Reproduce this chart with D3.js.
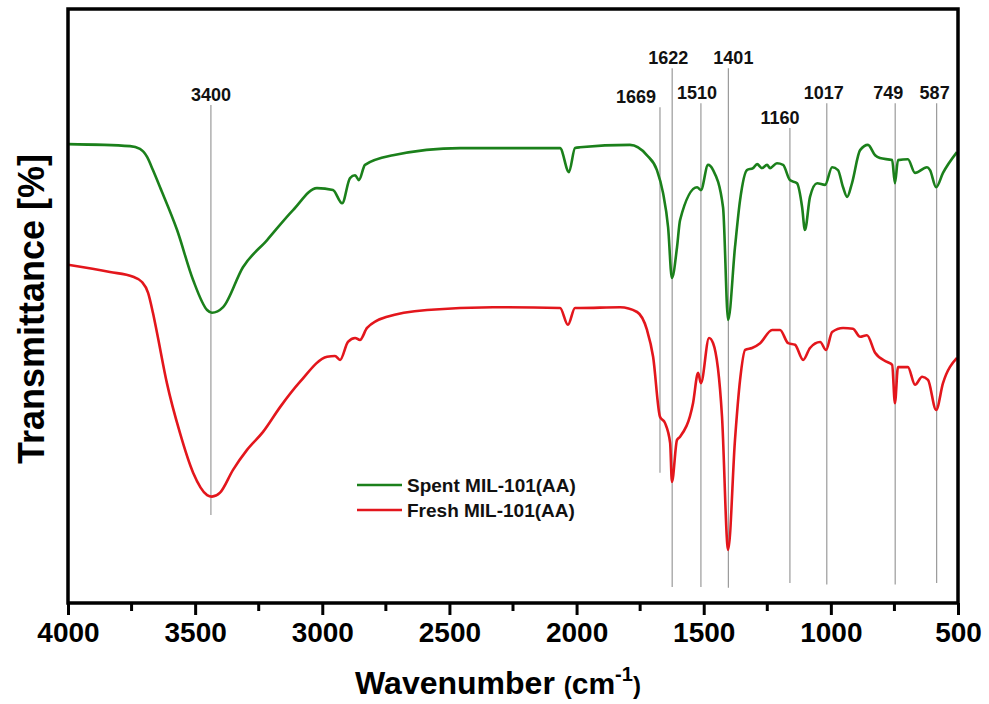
<!DOCTYPE html>
<html>
<head>
<meta charset="utf-8">
<script src="https://cdn.jsdelivr.net/npm/d3@7"></script>
<style>
  body { margin: 0; background: #fff; }
  text { font-family: "Liberation Sans", Arial, sans-serif; font-weight: bold; }
</style>
</head>
<body>
<div id="chart"></div>
<script>
// wavenumber (cm-1) and transmittance (arbitrary units)
var spentWn = [4000, 3756, 3717, 3689, 3666, 3638, 3571, 3508, 3453, 3434, 3390, 3312, 3217, 3115, 3021, 2958, 2922, 2891, 2871, 2856, 2832, 2722, 2458, 2065, 2030, 2006, 1987, 1790, 1723, 1684, 1660, 1640, 1625, 1605, 1593, 1526, 1511, 1483, 1463, 1424, 1404, 1377, 1357, 1330, 1306, 1290, 1271, 1251, 1239, 1212, 1188, 1161, 1133, 1113, 1102, 1082, 1054, 1023, 995, 972, 952, 936, 917, 885, 854, 826, 807, 759, 748, 736, 697, 669, 622, 610, 586, 559, 504];
var spentT = [57.0, 56.75, 56.4, 55.4, 53.75, 51.6, 46.25, 40.0, 36.25, 35.9, 36.6, 41.6, 45.0, 48.75, 51.5, 51.25, 49.6, 52.75, 53.1, 52.5, 54.4, 55.6, 56.5, 56.5, 53.5, 56.5, 56.6, 56.9, 55.6, 53.75, 50.9, 46.6, 40.25, 44.1, 47.5, 51.6, 51.25, 54.4, 53.75, 49.1, 35.0, 44.1, 50.0, 53.75, 54.0, 54.5, 54.0, 54.4, 54.0, 54.6, 54.4, 52.5, 52.1, 49.1, 46.25, 50.4, 52.1, 51.9, 54.1, 53.75, 51.6, 50.4, 52.1, 56.25, 56.9, 55.6, 55.25, 55.0, 52.1, 55.0, 55.1, 53.4, 54.1, 53.75, 51.6, 53.4, 56.0];

var freshWn = [4000, 3835, 3744, 3709, 3685, 3666, 3650, 3611, 3560, 3508, 3453, 3434, 3402, 3351, 3296, 3233, 3166, 3088, 2981, 2950, 2930, 2899, 2871, 2852, 2824, 2745, 2588, 2329, 2065, 2034, 2006, 1987, 1829, 1762, 1723, 1699, 1672, 1652, 1632, 1625, 1605, 1593, 1542, 1522, 1511, 1479, 1463, 1428, 1404, 1377, 1357, 1337, 1310, 1278, 1231, 1200, 1168, 1141, 1109, 1082, 1042, 1019, 995, 952, 913, 885, 858, 826, 779, 759, 748, 736, 697, 669, 641, 618, 586, 559, 504];
var freshT = [41.9, 41.0, 40.4, 39.75, 38.4, 35.9, 33.4, 27.1, 20.9, 15.9, 13.1, 12.9, 13.4, 16.25, 18.75, 21.0, 24.1, 27.25, 30.4, 30.5, 30.0, 32.25, 32.75, 32.5, 34.0, 35.4, 36.25, 36.6, 36.5, 34.4, 36.5, 36.5, 36.6, 36.0, 33.75, 30.4, 22.9, 22.1, 19.6, 14.75, 20.0, 20.4, 24.6, 28.4, 27.1, 32.75, 32.1, 22.9, 6.25, 20.0, 27.5, 31.25, 31.5, 32.1, 33.75, 33.75, 32.1, 31.9, 30.0, 31.5, 32.25, 31.25, 33.5, 34.0, 33.9, 32.9, 33.1, 30.9, 29.75, 29.4, 24.6, 29.1, 29.1, 26.9, 27.9, 27.5, 23.75, 27.1, 30.25];

// marked bands: line position, label, top and bottom of the guide line
var peakWn = [3438, 1672, 1624, 1511, 1403, 1161, 1016, 747, 584];
var peakLabels = ["3400", "1669", "1622", "1510", "1401", "1160", "1017", "749", "587"];
var peakTop = [61.9, 61.6, 66.5, 62.1, 66.5, 59.0, 62.1, 62.1, 62.1];
var peakBottom = [10.6, 15.9, 1.6, 1.6, 1.5, 2.1, 1.9, 1.9, 2.1];

var seriesNames = ["Spent MIL-101(AA)", "Fresh MIL-101(AA)"];
var xTicks = [4000, 3500, 3000, 2500, 2000, 1500, 1000, 500];

function draw(){
	var margin = {top: 9, right: 31, bottom: 101, left: 68};
	var width = 989 - margin.left - margin.right, height = 704 - margin.top - margin.bottom;
	var colors = ["#1b801b", "#e3161c"];

	var svg = d3.select("#chart")
		.append("svg")
		.attr("width", 989)
		.attr("height", 704);
	var g = svg.append("g")
		.attr("transform", "translate(" + margin.left + "," + margin.top + ")");

	var x = d3.scaleLinear().domain([4000, 500]).range([0, width]);
	var y = d3.scaleLinear().domain([-0.4, 73.9]).range([height, 0]);

	// guide lines at the bands
	var shift = [0, -24, -4, -4, 5, -10, -3, -7, -2];
	peakWn.forEach(function(p, i){
		g.append("line")
			.attr("x1", x(p)).attr("x2", x(p))
			.attr("y1", y(peakTop[i])).attr("y2", y(peakBottom[i]))
			.attr("stroke", "#9a9a9a")
			.attr("stroke-width", 1.2);
		g.append("text")
			.attr("x", x(p) + shift[i])
			.attr("y", y(peakTop[i]) - 4)
			.attr("text-anchor", "middle")
			.style("font-size", "18px")
			.attr("fill", "#111")
			.text(peakLabels[i]);
	});

	// spectra
	var line = d3.line()
		.x(function(d){ return x(d[0]); })
		.y(function(d){ return y(d[1]); })
		.curve(d3.curveMonotoneX);
	var series = [d3.zip(spentWn, spentT), d3.zip(freshWn, freshT)];
	series.forEach(function(s, i){
		g.append("path")
			.datum(s)
			.attr("d", line)
			.attr("fill", "none")
			.attr("stroke", colors[i])
			.attr("stroke-width", 2.6)
			.attr("stroke-linejoin", "round");
	});

	// frame
	g.append("rect")
		.attr("width", width).attr("height", height)
		.attr("fill", "none")
		.attr("stroke", "#000")
		.attr("stroke-width", 3.5);

	// x axis, major and minor ticks pointing out
	var minor = d3.range(3750, 500, -500);
	g.selectAll(".minor")
		.data(minor).enter()
		.append("line")
		.attr("x1", function(d){ return x(d); }).attr("x2", function(d){ return x(d); })
		.attr("y1", height).attr("y2", height + 8)
		.attr("stroke", "#000").attr("stroke-width", 3);
	var ax = g.append("g")
		.attr("transform", "translate(0," + height + ")")
		.call(d3.axisBottom(x).tickValues(xTicks).tickSize(12).tickPadding(7).tickFormat(d3.format("d")));
	ax.select(".domain").remove();
	ax.selectAll(".tick line").attr("stroke-width", 3);
	ax.selectAll(".tick text")
		.style("font-size", "28px")
		.style("font-family", "'Liberation Sans', Arial, sans-serif")
		.style("font-weight", "bold")
		.attr("fill", "#000");

	// axis titles
	var xt = svg.append("text")
		.attr("x", 498)
		.attr("y", 694)
		.attr("text-anchor", "middle")
		.style("font-size", "32px");
	xt.append("tspan").text("Wavenumber ");
	xt.append("tspan").style("font-size", "24px").text("(");
	xt.append("tspan").style("font-size", "30px").text("cm");
	xt.append("tspan").style("font-size", "20px").attr("dy", -13).text("-1");
	xt.append("tspan").style("font-size", "24px").attr("dy", 13).text(")");

	svg.append("text")
		.attr("transform", "rotate(-90)")
		.attr("x", -309)
		.attr("y", 44)
		.attr("text-anchor", "middle")
		.style("font-size", "36px")
		.text("Transmittance [%]");

	// legend
	var leg = svg.append("g").attr("transform", "translate(357,485)");
	seriesNames.forEach(function(n, i){
		leg.append("line")
			.attr("x1", 0).attr("x2", 45)
			.attr("y1", i * 25).attr("y2", i * 25)
			.attr("stroke", colors[i]).attr("stroke-width", 2.6);
		leg.append("text")
			.attr("x", 50).attr("y", i * 25 + 7)
			.style("font-size", "19px")
			.attr("fill", "#111")
			.text(n);
	});
}

draw();
</script>
</body>
</html>
